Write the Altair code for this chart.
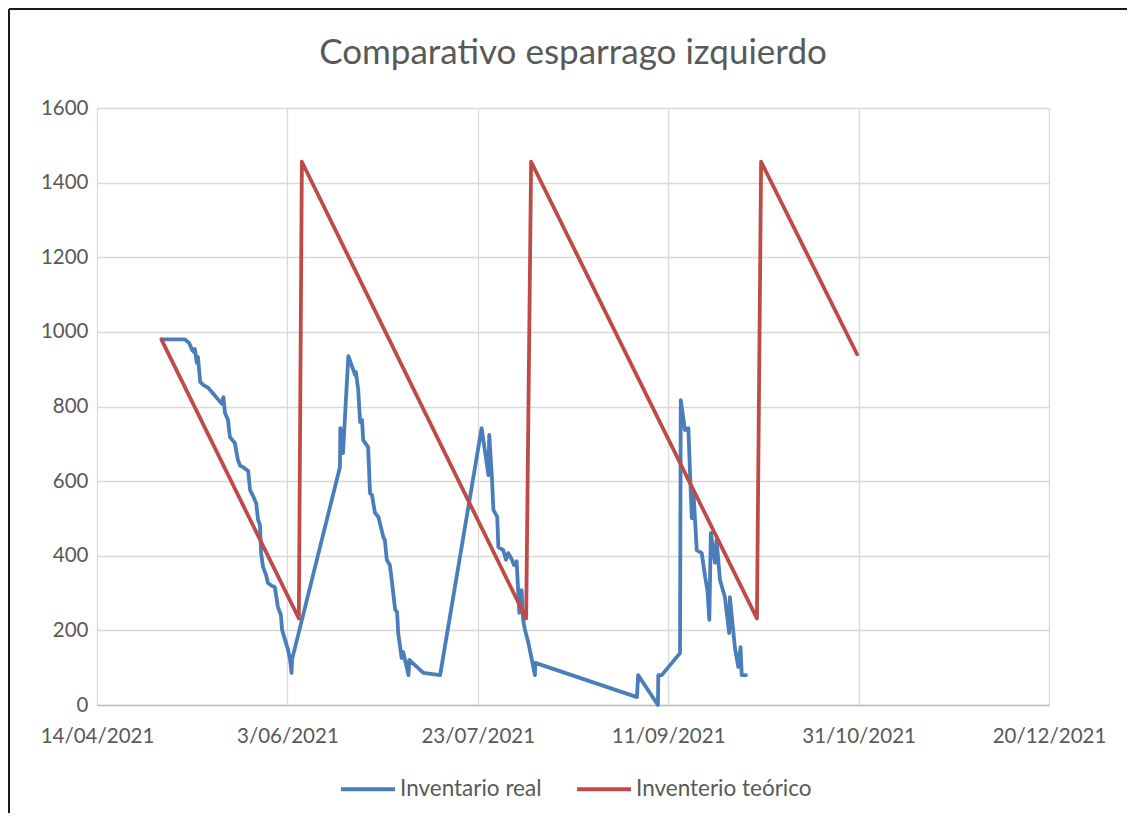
import altair as alt
import pandas as pd

# ---- data (days counted from 14/04/2021) ----
real_day = [17.0, 23.1, 24.2, 25.0, 25.5, 25.7, 26.2, 26.5, 27.1, 27.9, 29.2, 32.8, 33.2, 33.6,
            34.4, 34.9, 36.2, 37.0, 37.6, 38.3, 39.7, 40.2, 41.0, 41.8, 42.3, 42.8, 43.1, 43.6,
            44.4, 44.9, 46.0, 46.7, 47.5, 48.3, 48.6, 49.4, 50.2, 50.7, 51.1, 51.2,
            63.8, 63.9, 64.6, 66.0, 67.8, 68.0, 68.6, 69.1, 69.6, 69.9, 71.2, 71.7, 72.2, 73.0,
            73.9, 75.2, 75.6, 76.1, 76.9, 77.4, 78.3, 78.8, 79.1, 80.0, 80.4, 81.8, 82.0, 85.7,
            90.1, 101.0, 102.8, 103.0, 103.7, 104.1, 105.1, 105.4, 106.7, 107.4, 108.0, 109.0,
            109.5, 110.2, 110.9, 111.5, 111.9, 112.4, 113.3, 114.2, 115.0, 115.1, 141.8, 142.1,
            147.3, 147.4, 148.3, 153.1, 153.3, 154.4, 155.3, 155.7, 156.2, 156.6, 157.5, 158.8,
            159.7, 160.3, 160.8, 161.2, 162.3, 162.7, 163.6, 164.9, 166.0, 166.2, 167.5, 168.4,
            169.0, 169.3, 170.4]
real_value = [980, 980, 970, 951, 946, 954, 917, 933, 866, 858, 850, 807, 825, 783,
              764, 718, 702, 657, 641, 638, 627, 576, 560, 541, 496, 482, 407, 370,
              348, 327, 319, 316, 263, 241, 201, 174, 147, 121, 86, 121,
              638, 742, 675, 935, 884, 892, 844, 758, 764, 710, 691, 568, 563, 515,
              504, 450, 442, 389, 375, 335, 255, 249, 193, 126, 142, 80, 121, 86,
              80, 742, 616, 724, 611, 523, 504, 423, 415, 389, 407, 389,
              375, 385, 247, 308, 228, 201, 166, 121, 80, 113, 21, 80,
              0, 80, 80, 139, 817, 737, 742, 630, 501, 576, 415, 407,
              343, 308, 228, 461, 381, 442, 335, 289, 193, 289, 155, 102,
              155, 80, 80]

theo_day = [16.9, 53.0, 53.8, 112.7, 114.0, 173.3, 174.4, 199.6]
theo_value = [980, 232, 1456, 232, 1456, 232, 1456, 940]

series_names = ["Inventario real", "Inventerio teórico"]
series_colors = ["#4a7ebb", "#be4b48"]

title_text = "Comparativo esparrago izquierdo"
tick_dates = [(2021, 4, 14), (2021, 6, 3), (2021, 7, 23), (2021, 9, 11), (2021, 10, 31), (2021, 12, 20)]
y_ticks = [0, 200, 400, 600, 800, 1000, 1200, 1400, 1600]

start = pd.Timestamp("2021-04-14")
df = pd.concat([
    pd.DataFrame({"fecha": start + pd.to_timedelta(real_day, unit="D"),
                  "valor": real_value, "serie": series_names[0], "orden": range(len(real_day))}),
    pd.DataFrame({"fecha": start + pd.to_timedelta(theo_day, unit="D"),
                  "valor": theo_value, "serie": series_names[1], "orden": range(len(theo_day))}),
])

FONT = "Lato"
TXT = "#595959"

lines = alt.Chart(df).mark_line(strokeWidth=3.8, strokeJoin="round", strokeCap="round").encode(
    x=alt.X("fecha:T",
            scale=alt.Scale(domain=[alt.DateTime(year=2021, month=4, date=14),
                                    alt.DateTime(year=2021, month=12, date=20)]),
            axis=alt.Axis(title=None, format="%-d/%m/%Y",
                          values=[alt.DateTime(year=y, month=m, date=d) for y, m, d in tick_dates],
                          grid=True, gridColor="#d9d9d9", gridWidth=1.3,
                          domainColor="#c0c0c0", domainWidth=1.5, ticks=False,
                          labelPadding=21, labelFontSize=20.5, labelColor=TXT, labelFont=FONT,
                          labelFlush=False)),
    y=alt.Y("valor:Q", scale=alt.Scale(domain=[0, 1600], nice=False),
            axis=alt.Axis(title=None, values=y_ticks, format="d", grid=True, gridColor="#d9d9d9",
                          gridWidth=1.3, domain=False, ticks=False, labelPadding=9,
                          labelFontSize=20.5, labelColor=TXT, labelFont=FONT)),
    color=alt.Color("serie:N", scale=alt.Scale(domain=series_names, range=series_colors),
                    legend=alt.Legend(title=None, orient="none", direction="horizontal",
                                      legendX=242, legendY=652, symbolType="stroke",
                                      symbolSize=2916, symbolStrokeWidth=3.8, labelOffset=3,
                                      columnPadding=27, labelFontSize=22.5, labelColor=TXT,
                                      labelFont=FONT, labelLimit=400, padding=0)),
    order="orden:Q",
)

border = alt.Chart(pd.DataFrame({"k": [0]})).mark_rule(color="#1a1a1a", strokeWidth=2).encode(
    x=alt.value(-88), y=alt.value(-99), y2=alt.value(705))
border_top = alt.Chart(pd.DataFrame({"k": [0]})).mark_rule(color="#1a1a1a", strokeWidth=2).encode(
    x=alt.value(-88), x2=alt.value(1030), y=alt.value(-99))

chart = alt.layer(lines, border, border_top).properties(
    width=952, height=597,
    title=alt.TitleParams(title_text, font=FONT, fontSize=35, fontWeight="normal", color=TXT,
                          anchor="middle", offset=0, dy=63),
    autosize=alt.AutoSizeParams(type="none"),
    padding={"left": 89, "top": 100, "right": 78, "bottom": 108},
).configure_view(stroke=None)

chart.save("out.html", embed_options={"renderer": "svg", "actions": False})
